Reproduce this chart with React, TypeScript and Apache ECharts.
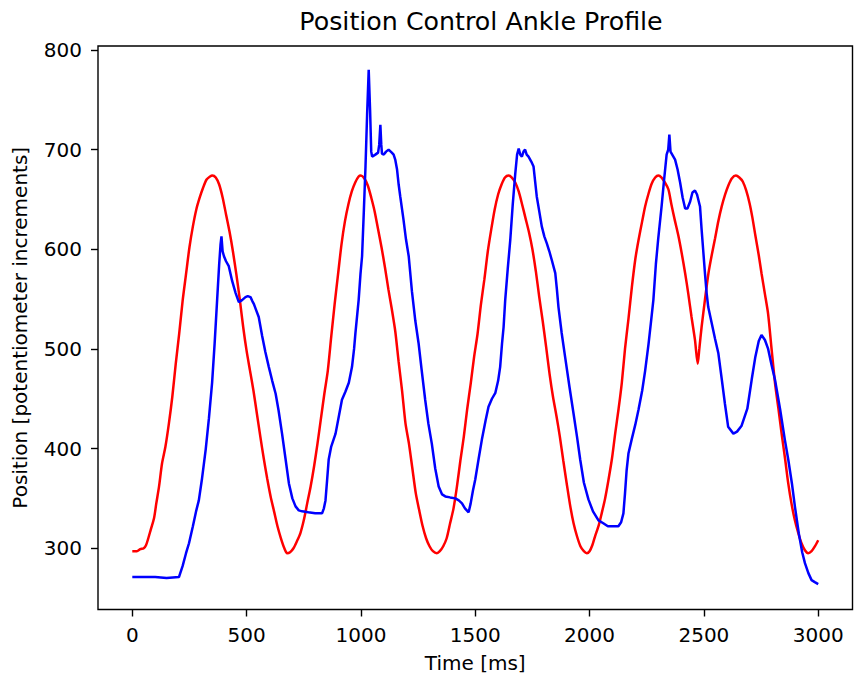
import React, { useEffect, useRef } from "react";
import * as echarts from "echarts";

const TITLE = "Position Control Ankle Profile";
const X_NAME = "Time [ms]";
const Y_NAME = "Position [potentiometer increments]";
const X_TICKS = [0, 500, 1000, 1500, 2000, 2500, 3000];
const Y_TICKS = [300, 400, 500, 600, 700, 800];

// Red: desired profile (time in ms, position)
const RED_T = [
  0, 20, 35, 50, 60, 70, 80, 95, 105, 117, 130, 145, 160, 175, 190, 205, 220, 235, 250, 265, 280, 295, 310, 325, 340, 350,
  365, 380, 395, 410, 425, 440, 455, 470, 485, 500, 515, 530, 545, 560, 575, 590, 605, 620, 635, 650, 665, 677,
  690, 705, 720, 735, 750, 765, 780, 795, 810, 825, 840, 855, 870, 885, 900, 915, 930, 945, 960, 975, 990, 1000,
  1015, 1030, 1045, 1060, 1075, 1090, 1105, 1120, 1135, 1150, 1165, 1180, 1195, 1210, 1225, 1240, 1255, 1270, 1285, 1300, 1315, 1332,
  1345, 1360, 1375, 1390, 1405, 1420, 1435, 1450, 1465, 1480, 1495, 1510, 1525, 1540, 1555, 1570, 1585, 1600, 1615, 1630, 1646,
  1660, 1675, 1690, 1705, 1720, 1735, 1750, 1765, 1780, 1795, 1810, 1825, 1840, 1855, 1870, 1885, 1900, 1915, 1930, 1945, 1960, 1975, 1988,
  2000, 2012, 2024, 2040, 2053, 2068, 2083, 2098, 2112, 2127, 2141, 2155, 2170, 2185, 2200, 2214, 2230, 2243, 2258, 2272, 2287, 2301,
  2315, 2330, 2345, 2358, 2372, 2388, 2403, 2418, 2432, 2446, 2461, 2473,
  2480, 2490, 2505, 2520, 2535, 2549, 2563, 2578, 2593, 2607, 2622, 2640,
  2655, 2670, 2685, 2700, 2712, 2725, 2740, 2752, 2767, 2781, 2796, 2811, 2826, 2840, 2855, 2869, 2883, 2898, 2913, 2927, 2942, 2956, 2971, 2986, 3000,
];
const RED_V = [
  297, 297, 299, 300, 303, 310, 318, 330, 345, 362, 385, 402, 425, 452, 485, 515, 548, 575, 602, 623, 640, 652, 662, 670, 673, 674,
  672, 665, 652, 635, 618, 598, 575, 550, 522, 498, 478, 458, 435, 412, 390, 370, 352, 337, 322, 310, 300, 295,
  296, 300, 307, 315, 328, 345, 362, 382, 405, 430, 455, 478, 512, 545, 575, 605, 628, 645, 658, 667, 673, 674,
  671, 664, 652, 638, 620, 602, 582, 560, 540, 518, 487, 458, 425, 405, 380, 355, 338, 322, 310, 302, 297, 295,
  297, 302, 310, 325, 340, 362, 388, 412, 440, 465, 492, 515, 545, 570, 598, 620, 640, 655, 665, 672, 674,
  672, 667, 658, 645, 631, 617, 600, 578, 552, 528, 502, 475, 452, 433, 412, 388, 365, 343, 325, 312, 302, 297, 295,
  297, 303, 312, 323, 335, 350, 369, 390, 415, 440, 466, 500, 530, 562, 590, 609, 628, 643, 656, 666, 672, 674,
  672, 667, 660, 645, 630, 614, 596, 576, 555, 532, 509, 485,
  500, 522, 550, 576, 595, 611, 628, 643, 655, 664, 671, 674,
  672, 668, 659, 646, 632, 614, 594, 576, 555, 535, 500, 466, 440, 415, 390, 365, 345, 328, 315, 305, 298, 295, 297, 302, 308,
];

// Blue: measured position (time in ms, position)
const BLUE_T = [
  0, 50, 100, 150, 204, 220, 235, 248, 265, 280, 291, 305, 321, 335, 349, 360, 371, 380, 386, 390,
  395, 401, 410, 422, 437, 452, 466, 480, 495, 505, 517, 525, 532, 540, 553, 568, 582, 597, 612, 627, 640, 655, 670, 685, 700, 714, 728, 743, 770, 800, 830,
  838, 845, 852, 859, 870, 889, 903, 917, 932, 947, 961, 970, 976, 984, 990, 998, 1005, 1013, 1020, 1027, 1034,
  1040, 1045, 1049, 1063, 1075, 1080, 1085, 1089, 1092, 1100, 1110, 1121, 1135, 1143, 1150, 1158, 1165, 1172, 1186, 1197, 1209, 1223, 1238, 1252,
  1265, 1281, 1295, 1310, 1325, 1340, 1355, 1369, 1390, 1413, 1428, 1442, 1455, 1471,
  1480, 1490, 1500, 1515, 1529, 1545, 1558, 1573, 1588, 1600, 1609, 1617, 1624, 1631, 1642, 1653, 1664, 1675, 1683, 1690,
  1697, 1704, 1711, 1718, 1725, 1733, 1745, 1755, 1762, 1769, 1780, 1791, 1802, 1813, 1824, 1835, 1850, 1857, 1864, 1878, 1893,
  1912, 1930, 1945, 1959, 1975, 1995, 2015, 2039, 2060, 2080, 2097, 2115, 2126, 2138, 2148, 2155, 2162, 2170, 2184, 2200, 2214,
  2230, 2243, 2258, 2270, 2279, 2290, 2300, 2315, 2326, 2337, 2344, 2349, 2354, 2359, 2374, 2385, 2396, 2407, 2418, 2428, 2440, 2450, 2461, 2470, 2483,
  2490, 2498, 2505, 2512, 2519, 2535, 2549, 2563, 2578, 2592, 2606, 2629, 2645, 2665, 2690, 2709, 2725, 2740, 2752, 2767,
  2781, 2796, 2811, 2833, 2854, 2869, 2885, 2898, 2915, 2930, 2942, 2957, 2971, 2985, 3000,
];
const BLUE_V = [
  271, 271, 271, 270, 271, 282, 295, 305, 322, 338, 348, 370, 399, 430, 466, 505, 549, 585, 605, 613,
  598, 593, 588, 583, 568, 556, 547, 549, 552, 553, 552, 548, 545, 540, 532, 513, 497, 482, 468, 455, 438, 415, 390, 365, 350, 342, 338, 337, 336, 335, 335,
  340, 348, 368, 389, 402, 415, 432, 449, 457, 466, 482, 500, 516, 535, 549, 575, 593, 640, 683, 735, 780,
  740, 698, 693, 695, 697, 705, 725, 705, 696, 695, 698, 700, 697, 695, 690, 680, 665, 653, 630, 610, 593, 558, 528, 506,
  480, 449, 425, 405, 380, 362, 354, 352, 351, 350, 348, 345, 340, 336,
  345, 358, 369, 390, 409, 428, 442, 450, 456, 468, 482, 505, 522, 549, 580, 609, 645, 676, 695, 701,
  695, 693, 698, 700, 695, 693, 688, 683, 668, 653, 638, 623, 613, 606, 598, 589, 576, 560, 542, 516, 492,
  462, 435, 412, 389, 366, 349, 337, 328, 325, 322, 322, 322, 322, 326, 335, 355, 378, 395, 409, 424, 439,
  458, 478, 505, 530, 549, 585, 610, 643, 670, 695, 700, 715, 698, 696, 690, 680, 667, 652, 641, 641, 648, 657, 659, 655, 643,
  620, 596, 575, 556, 542, 525, 510, 496, 470, 445, 422, 415, 417, 423, 440, 469, 492, 508, 514, 509,
  500, 484, 469, 440, 409, 389, 365, 342, 315, 296, 285, 275, 268, 266, 264,
];

const zip = (t: number[], v: number[]) => t.map((x, i) => [x, v[i]]);

const FONT = "DejaVu Sans";
const plain = (v: number) => String(v);

export default function App() {
  const ref = useRef<HTMLDivElement>(null);
  useEffect(() => {
    if (!ref.current) return;
    const chart = echarts.init(ref.current, null, { renderer: "svg" });
    chart.setOption({
      animation: false,
      backgroundColor: "#ffffff",
      title: {
        text: TITLE,
        left: 476,
        top: 4,
        textAlign: "center",
        textStyle: { fontFamily: FONT, fontSize: 25.3, fontWeight: "normal", color: "#000" },
      },
      grid: {
        left: 98,
        right: 1.5,
        top: 46,
        bottom: 71.5,
        containLabel: false,
        outerBoundsMode: "none",
        show: true,
        borderColor: "#000",
        borderWidth: 1.4,
        backgroundColor: "#fff",
      },
      xAxis: {
        type: "value",
        min: -150,
        max: 3150,
        name: X_NAME,
        nameLocation: "middle",
        nameGap: 43,
        nameTextStyle: { fontFamily: FONT, fontSize: 20, color: "#000" },
        axisLine: { show: false, onZero: false },
        splitLine: { show: false },
        axisTick: {
          show: true,
          length: 7,
          inside: false,
          customValues: X_TICKS,
          lineStyle: { color: "#000", width: 1.4 },
        },
        axisLabel: {
          customValues: X_TICKS,
          formatter: plain,
          margin: 15,
          fontFamily: FONT,
          fontSize: 20,
          color: "#000",
        },
      },
      yAxis: {
        type: "value",
        min: 238.5,
        max: 804,
        name: Y_NAME,
        nameLocation: "middle",
        nameGap: 68,
        nameRotate: 90,
        nameTextStyle: { fontFamily: FONT, fontSize: 20, color: "#000" },
        axisLine: { show: false, onZero: false },
        splitLine: { show: false },
        axisTick: {
          show: true,
          length: 7,
          inside: false,
          customValues: Y_TICKS,
          lineStyle: { color: "#000", width: 1.4 },
        },
        axisLabel: {
          customValues: Y_TICKS,
          formatter: plain,
          margin: 16,
          fontFamily: FONT,
          fontSize: 20,
          color: "#000",
        },
      },
      series: [
        {
          type: "line",
          data: zip(RED_T, RED_V),
          showSymbol: false,
          symbol: "none",
          smooth: 0.25,
          lineStyle: { color: "#ff0000", width: 2.5 },
          itemStyle: { color: "#ff0000" },
          z: 2,
        },
        {
          type: "line",
          data: zip(BLUE_T, BLUE_V),
          showSymbol: false,
          symbol: "none",
          lineStyle: { color: "#0000ff", width: 2.5 },
          itemStyle: { color: "#0000ff" },
          z: 3,
        },
      ],
    });
    return () => chart.dispose();
  }, []);
  return (
    <div
      ref={ref}
      style={{ position: "absolute", left: 0, top: 0, width: 854, height: 681 }}
    />
  );
}
